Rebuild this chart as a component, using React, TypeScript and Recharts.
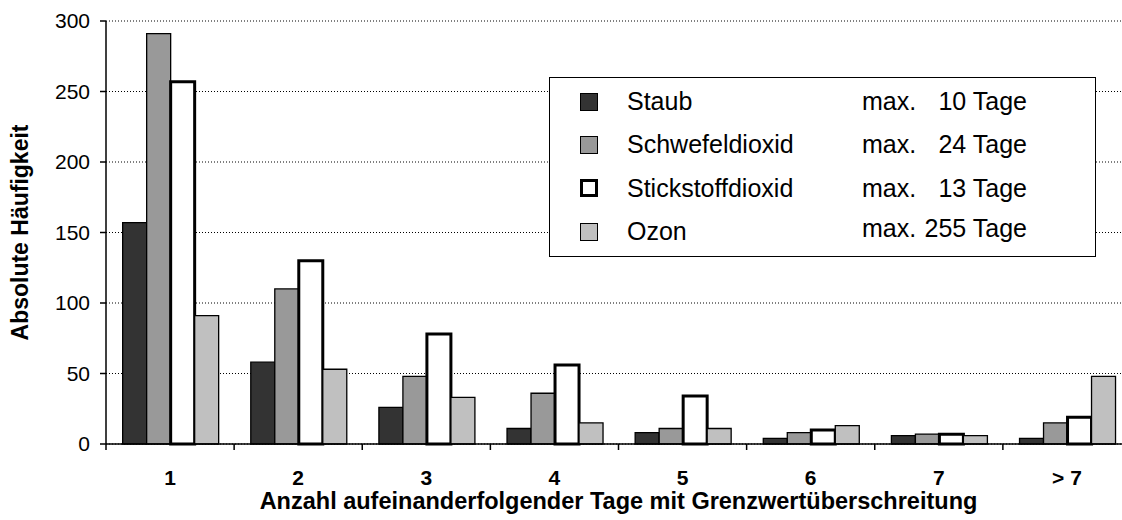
import React from 'react';
import { BarChart, Bar, XAxis, YAxis, CartesianGrid, Legend } from 'recharts';

const categories = ['1', '2', '3', '4', '5', '6', '7', '> 7'];
const staub = [157, 58, 26, 11, 8, 4, 6, 4];
const schwefeldioxid = [291, 110, 48, 36, 11, 8, 7, 15];
const stickstoffdioxid = [257, 130, 78, 56, 34, 10, 7, 19];
const ozon = [91, 53, 33, 15, 11, 13, 6, 48];

const seriesKeys = ['staub', 'schwefeldioxid', 'stickstoffdioxid', 'ozon'];
const seriesNames = ['Staub', 'Schwefeldioxid', 'Stickstoffdioxid', 'Ozon'];
const maxDays = ['10', '24', '13', '255'];
const yTicks = [0, 50, 100, 150, 200, 250, 300];

const xTitle = 'Anzahl aufeinanderfolgender Tage mit Grenzwertüberschreitung';
const yTitle = 'Absolute Häufigkeit';

const FONT = '"Liberation Sans", Arial, Helvetica, sans-serif';

const fills = ['#333333', '#999999', '#ffffff', '#c0c0c0'];
const strokeWidths = [1.3, 1.3, 3, 1.3];

const data = categories.map((c, i) => ({
  cat: c,
  staub: staub[i],
  schwefeldioxid: schwefeldioxid[i],
  stickstoffdioxid: stickstoffdioxid[i],
  ozon: ozon[i],
}));

const XTick = (props: any) => {
  const { x, y, payload } = props;
  const off = payload && typeof payload.offset === 'number' ? payload.offset : 0;
  return (
    <g>
      <line x1={x - off} x2={x - off} y1={y} y2={y + 6} stroke="#000" strokeWidth={1.5} />
      <text x={x} y={y + 41} textAnchor="middle" fontWeight="bold" fontSize={21} fill="#000" fontFamily={FONT}>
        {payload.value}
      </text>
    </g>
  );
};

const LegendBox = () => (
  <div
    style={{
      width: 547,
      height: 180,
      boxSizing: 'border-box',
      border: '1.5px solid #000',
      background: '#fff',
      fontFamily: FONT,
      fontSize: 25,
      color: '#000',
      paddingTop: 2,
    }}
  >
    {seriesNames.map((n, i) => (
      <div key={n} style={{ position: 'relative', height: 43.4 }}>
        <div
          style={{
            position: 'absolute',
            left: 30,
            top: 12.5,
            width: 18,
            height: 18,
            boxSizing: 'border-box',
            background: fills[i],
            border: `${i === 2 ? 3 : 1.3}px solid #000`,
          }}
        />
        <div style={{ position: 'absolute', left: 77, top: 6, lineHeight: '30px' }}>{n}</div>
        <div style={{ position: 'absolute', left: 312, top: i === 3 ? 3 : 6, lineHeight: '30px' }}>max.</div>
        <div style={{ position: 'absolute', right: 68, top: i === 3 ? 3 : 6, lineHeight: '30px', textAlign: 'right' }}>
          {maxDays[i]} Tage
        </div>
      </div>
    ))}
  </div>
);

const YTitle = (props: any) => {
  const vb = props.viewBox || {};
  const cy = (vb.y || 0) + (vb.height || 0) / 2;
  const cx = 20;
  return (
    <text
      x={cx}
      y={cy}
      transform={`rotate(-90, ${cx}, ${cy})`}
      textAnchor="middle"
      dominantBaseline="central"
      fontWeight="bold"
      fontSize={23}
      fill="#000"
      fontFamily={FONT}
    >
      {yTitle}
    </text>
  );
};

const XTitle = (props: any) => {
  const vb = props.viewBox || {};
  const cx = (vb.x || 0) + (vb.width || 0) / 2;
  return (
    <text x={cx} y={509} textAnchor="middle" fontWeight="bold" fontSize={23.5} fill="#000" fontFamily={FONT}>
      {xTitle}
    </text>
  );
};

export default function App() {
  return (
    <div
      style={{
        position: 'absolute',
        left: 0,
        top: 0,
        width: 1122,
        height: 520,
        overflow: 'hidden',
        background: '#fff',
        fontFamily: FONT,
      }}
    >
      <BarChart
        width={1131}
        height={520}
        data={data}
        margin={{ top: 21, right: 0, bottom: 0, left: 0 }}
        barCategoryGap="13%"
        barGap={0}
      >
        <CartesianGrid vertical={false} stroke="#000" strokeDasharray="1 2" strokeWidth={1} />
        <XAxis
          dataKey="cat"
          height={76}
          axisLine={{ stroke: '#000', strokeWidth: 1.5 }}
          tickLine={false}
          tickSize={0}
          tickMargin={0}
          tick={<XTick />}
          interval={0}
          label={{ content: <XTitle /> }}
        />
        <YAxis
          width={106}
          domain={[0, 300]}
          ticks={yTicks}
          interval={0}
          axisLine={{ stroke: '#000', strokeWidth: 1.5 }}
          tickLine={{ stroke: '#000', strokeWidth: 1.5 }}
          tickSize={6}
          tickMargin={10}
          tick={{ fill: '#000', fontSize: 21, fontFamily: FONT }}
          label={{ content: <YTitle /> }}
        />
        <Legend
          layout="horizontal"
          verticalAlign="middle"
          align="center"
          content={<LegendBox />}
          wrapperStyle={{ left: 549, top: 77, width: 547, height: 180 }}
        />
        {seriesKeys.map((k, i) => (
          <Bar
            key={k}
            dataKey={k}
            name={seriesNames[i]}
            fill={fills[i]}
            stroke="#000"
            strokeWidth={strokeWidths[i]}
            isAnimationActive={false}
          />
        ))}
      </BarChart>
    </div>
  );
}
